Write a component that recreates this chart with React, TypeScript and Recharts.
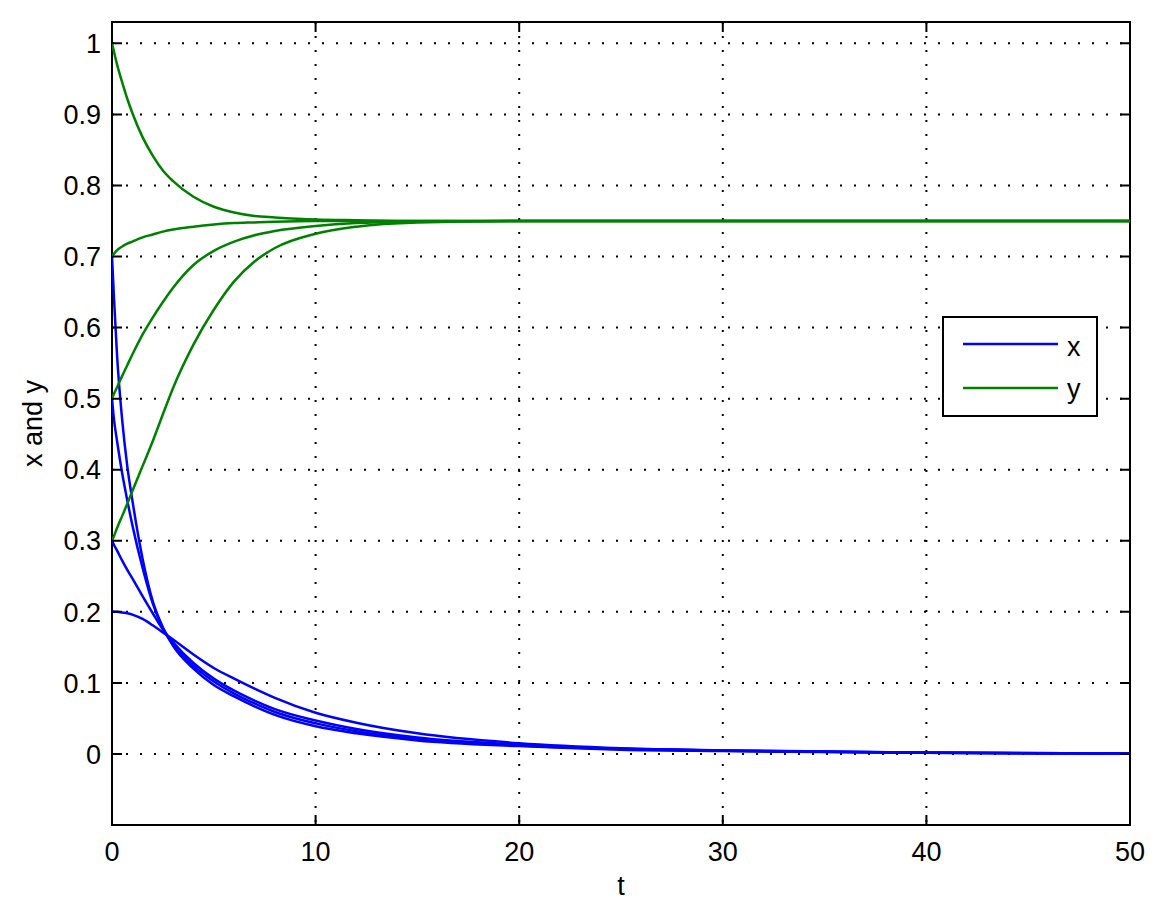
import React from "react";
import {
  CartesianGrid,
  Line,
  LineChart,
  ReferenceArea,
  XAxis,
  YAxis,
} from "recharts";

// sample times (t) and the values for each trajectory
const times = [0, 0.1, 0.25, 0.5, 0.75, 1, 1.5, 2, 2.5, 3, 4, 5, 6, 7, 8, 10, 12, 15, 20, 25, 30, 40, 50];

const x1 = [0.7, 0.64, 0.56, 0.47, 0.405, 0.357, 0.275, 0.215, 0.178, 0.152, 0.12, 0.097, 0.081, 0.067, 0.055, 0.039, 0.029, 0.019, 0.011, 0.006, 0.004, 0.0015, 0.0005];
const x2 = [0.5, 0.47, 0.44, 0.395, 0.357, 0.322, 0.262, 0.212, 0.177, 0.154, 0.124, 0.102, 0.085, 0.071, 0.059, 0.043, 0.032, 0.021, 0.012, 0.007, 0.0045, 0.0017, 0.0006];
const x3 = [0.3, 0.294, 0.286, 0.272, 0.259, 0.247, 0.222, 0.198, 0.175, 0.157, 0.128, 0.106, 0.089, 0.075, 0.063, 0.047, 0.035, 0.023, 0.013, 0.0075, 0.0048, 0.0018, 0.0007];
const x4 = [0.2, 0.2, 0.2, 0.199, 0.198, 0.196, 0.19, 0.181, 0.171, 0.161, 0.14, 0.121, 0.106, 0.092, 0.079, 0.058, 0.044, 0.029, 0.015, 0.008, 0.005, 0.002, 0.0008];

const y1 = [1.0, 0.988, 0.97, 0.945, 0.922, 0.902, 0.868, 0.842, 0.821, 0.806, 0.784, 0.77, 0.762, 0.757, 0.755, 0.752, 0.751, 0.75, 0.75, 0.75, 0.75, 0.75, 0.75];
const y2 = [0.7, 0.704, 0.709, 0.714, 0.718, 0.721, 0.727, 0.731, 0.735, 0.738, 0.742, 0.745, 0.747, 0.748, 0.749, 0.75, 0.75, 0.75, 0.75, 0.75, 0.75, 0.75, 0.75];
const y3 = [0.5, 0.507, 0.516, 0.532, 0.547, 0.562, 0.59, 0.614, 0.636, 0.656, 0.688, 0.708, 0.721, 0.73, 0.736, 0.743, 0.747, 0.749, 0.75, 0.75, 0.75, 0.75, 0.75];
const y4 = [0.3, 0.307, 0.318, 0.335, 0.352, 0.37, 0.405, 0.44, 0.478, 0.515, 0.576, 0.625, 0.665, 0.693, 0.712, 0.732, 0.742, 0.748, 0.75, 0.75, 0.75, 0.75, 0.75];

const xTicks = [0, 10, 20, 30, 40, 50];
const yTicks = [0, 0.1, 0.2, 0.3, 0.4, 0.5, 0.6, 0.7, 0.8, 0.9, 1];

const rows = times.map((t, i) => ({
  t,
  x1: x1[i],
  x2: x2[i],
  x3: x3[i],
  x4: x4[i],
  y1: y1[i],
  y2: y2[i],
  y3: y3[i],
  y4: y4[i],
}));

const BLUE = "#0000ff";
const GREEN = "#008000";
const FONT = "'Liberation Sans', Arial, Helvetica, sans-serif";
const FS = 27;
const LW = 2.5;

// plot box edges in px (matches the chart margins below)
const PL = 112;
const PR = 1130;
const PT = 22;
const PB = 825;
const TICK = 10;

// MATLAB-style ticks: pointing inward, mirrored on the opposite edge
const YTick = ({ y, payload }: any) => (
  <g>
    <path d={`M${PL},${y}h${TICK}M${PR},${y}h${-TICK}`} stroke="#000" strokeWidth={2} fill="none" />
    <text x={PL - 11} y={y} dy="0.36em" textAnchor="end" fontFamily={FONT} fontSize={FS} fill="#000">
      {String(payload.value)}
    </text>
  </g>
);

const XTick = ({ x, payload }: any) => (
  <g>
    <path d={`M${x},${PB}v${-TICK}M${x},${PT}v${TICK}`} stroke="#000" strokeWidth={2} fill="none" />
    <text x={x} y={PB + 17} dy="0.72em" textAnchor="middle" fontFamily={FONT} fontSize={FS} fill="#000">
      {String(payload.value)}
    </text>
  </g>
);

const LegendBox = () => (
  <svg
    width={156}
    height={101}
    style={{ position: "absolute", left: 942, top: 316, display: "block" }}
  >
    <rect x={1} y={1} width={154} height={99} fill="#fff" stroke="#000" strokeWidth={2} />
    <line x1={21} x2={116} y1={28} y2={28} stroke={BLUE} strokeWidth={LW} />
    <line x1={21} x2={116} y1={72} y2={72} stroke={GREEN} strokeWidth={LW} />
    <text x={125} y={40} fontFamily={FONT} fontSize={FS} fill="#000">x</text>
    <text x={125} y={82} fontFamily={FONT} fontSize={FS} fill="#000">y</text>
  </svg>
);

export default function App() {
  return (
    <div style={{ position: "absolute", left: 0, top: 0, width: 1163, height: 922, background: "#fff" }}>
      <LineChart
        width={1163}
        height={922}
        data={rows}
        margin={{ top: PT, right: 1163 - PR, bottom: 37, left: 42 }}
      >
        <CartesianGrid stroke="#000" strokeWidth={2} strokeDasharray="2 12" />
        <XAxis
          dataKey="t"
          type="number"
          domain={[0, 50]}
          ticks={xTicks}
          height={922 - PB - 37}
          tickLine={false}
          axisLine={false}
          tick={<XTick />}
          allowDataOverflow
          label={() => (
            <text x={(PL + PR) / 2} y={PB + 70} textAnchor="middle" fontFamily={FONT} fontSize={FS} fill="#000">
              t
            </text>
          )}
        />
        <YAxis
          type="number"
          domain={[-0.1, 1.03]}
          ticks={yTicks}
          width={PL - 42}
          tickLine={false}
          axisLine={false}
          tick={<YTick />}
          allowDataOverflow
          label={() => {
            const cx = 42;
            const cy = (PT + PB) / 2;
            return (
              <text
                x={cx}
                y={cy}
                transform={`rotate(-90 ${cx} ${cy})`}
                textAnchor="middle"
                fontFamily={FONT}
                fontSize={FS}
                fill="#000"
              >
                x and y
              </text>
            );
          }}
        />
        <ReferenceArea
          x1={0}
          x2={50}
          y1={-0.1}
          y2={1.03}
          fill="none"
          fillOpacity={0}
          stroke="#000"
          strokeWidth={2}
          ifOverflow="visible"
        />
        <Line dataKey="x1" type="monotone" stroke={BLUE} strokeWidth={LW} dot={false} isAnimationActive={false} />
        <Line dataKey="x2" type="monotone" stroke={BLUE} strokeWidth={LW} dot={false} isAnimationActive={false} />
        <Line dataKey="x3" type="monotone" stroke={BLUE} strokeWidth={LW} dot={false} isAnimationActive={false} />
        <Line dataKey="x4" type="monotone" stroke={BLUE} strokeWidth={LW} dot={false} isAnimationActive={false} />
        <Line dataKey="y1" type="monotone" stroke={GREEN} strokeWidth={LW} dot={false} isAnimationActive={false} />
        <Line dataKey="y2" type="monotone" stroke={GREEN} strokeWidth={LW} dot={false} isAnimationActive={false} />
        <Line dataKey="y3" type="monotone" stroke={GREEN} strokeWidth={LW} dot={false} isAnimationActive={false} />
        <Line dataKey="y4" type="monotone" stroke={GREEN} strokeWidth={LW} dot={false} isAnimationActive={false} />
      </LineChart>
      <LegendBox />
    </div>
  );
}
